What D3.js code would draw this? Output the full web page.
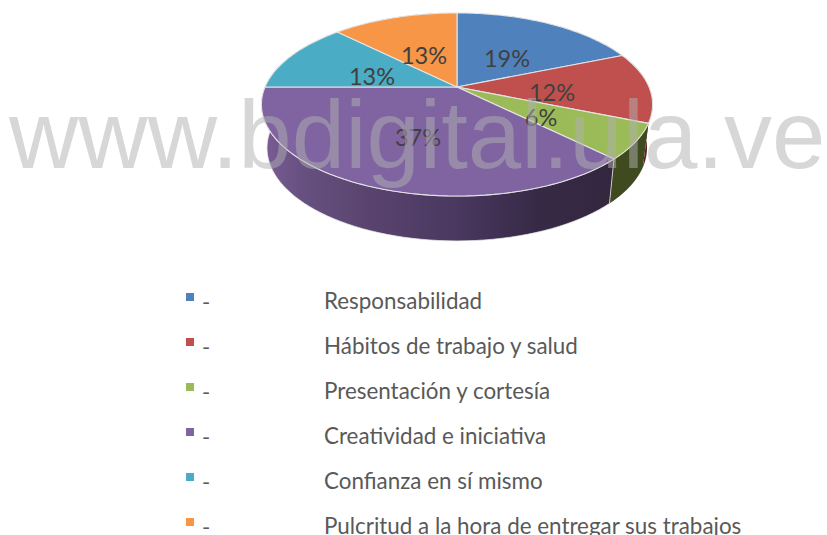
<!DOCTYPE html>
<html><head><meta charset="utf-8">
<script src="https://cdn.jsdelivr.net/npm/d3@7/dist/d3.min.js"></script>
<style>html,body{margin:0;padding:0;background:#fff;overflow:hidden}svg{display:block}</style>
</head><body><svg id="c" width="827" height="535"></svg>
<script>
const categories = ["Responsabilidad","Hábitos de trabajo y salud","Presentación y cortesía","Creatividad e iniciativa","Confianza en sí mismo","Pulcritud a la hora de entregar sus trabajos"];
const shares = [18.75,12.5,6.25,37.5,12.5,12.5];
const pctLabels = ["19%","12%","6%","37%","13%","13%"];
const palette = ["#4f81bd","#c0504d","#9bbb59","#8064a2","#4bacc6","#f79646"];
const sideColors = ["#2e4a70","#5e2220","#3f4a1e","#4f3c63","#25606f","#8a4f1e"];
const labelPos = [[507,61],[552,95],[541,120],[418,140],[372,79],[424,58]];
const watermark = "www.bdigital.ula.ve";

const svg = d3.select("#c");
const color = d3.scaleOrdinal(categories, palette);
const sideColor = d3.scaleOrdinal(categories, sideColors);
const k = 0.191;
const cx = 457;
const topDisk = {a:192, b:88.2, y:87};
const botDisk = {a:186.5, b:89.6, y:130.2};
const proj = (d, t) => {
  const u = Math.sin(t), v = -Math.cos(t), w = 1 - k*v;
  return [cx + d.a*u/w, d.y + d.b*v/w];
};
const arcs = d3.pie().value(d=>d).sort(null)(shares);
const samples = (a0,a1) => d3.range(0,61).map(i=>a0+(a1-a0)*i/60);
const line = d3.line();

const defs = svg.append("defs");
const grad = defs.append("linearGradient").attr("id","sideP").attr("gradientUnits","userSpaceOnUse")
  .attr("x1",262).attr("x2",612).attr("y1",0).attr("y2",0);
[[0,"#7a5c96"],[0.12,"#66507f"],[0.3,"#5a446f"],[0.55,"#4a3860"],[0.78,"#372a47"],[1,"#33273f"]]
  .forEach(s=>grad.append("stop").attr("offset",s[0]).attr("stop-color",s[1]));

// outer walls
svg.append("g").selectAll("path").data(arcs).join("path")
  .attr("d", d=>{
    const ts = samples(d.startAngle,d.endAngle);
    return line(ts.map(t=>proj(topDisk,t)).concat(ts.slice().reverse().map(t=>proj(botDisk,t))))+"Z";
  })
  .attr("fill",(d,i)=> i===3 ? "url(#sideP)" : sideColor(categories[i]))
  .attr("stroke",(d,i)=> i===3 ? "rgba(235,235,235,.75)" : "none").attr("stroke-width",1);

// top face
svg.append("g").selectAll("path").data(arcs).join("path")
  .attr("d", d=>line([[cx,topDisk.y]].concat(samples(d.startAngle,d.endAngle).map(t=>proj(topDisk,t))))+"Z")
  .attr("fill",(d,i)=>color(categories[i]))
  .attr("stroke","#e4e4e4").attr("stroke-width",1.1).attr("stroke-linejoin","round");

// percent labels
svg.append("g").selectAll("text").data(pctLabels).join("text")
  .attr("x",(d,i)=>labelPos[i][0]).attr("y",(d,i)=>labelPos[i][1])
  .attr("text-anchor","middle").attr("dominant-baseline","middle")
  .attr("font-family","Lato, sans-serif").attr("font-size",23.5).attr("fill","#404040").text(d=>d);

// legend
const rowY = d3.scalePoint(d3.range(categories.length),[302,527]);
const row = svg.append("g").selectAll("g").data(categories).join("g")
  .attr("transform",(d,i)=>`translate(0,${rowY(i)})`);
row.append("rect").attr("x",186).attr("y",-9).attr("width",8).attr("height",8).attr("fill",d=>color(d));
row.append("text").attr("x",202).attr("y",8).attr("font-family","Lato, sans-serif").attr("font-size",22).attr("fill","#595959").text("-");
row.append("text").attr("x",324).attr("y",7).attr("font-family","Lato, sans-serif").attr("font-size",22.4).attr("fill","#595959").text(d=>d);

// watermark
svg.append("text").attr("x",9).attr("y",168).attr("font-family","'Liberation Sans', Arial, sans-serif")
  .attr("font-size",96).attr("fill","rgb(175,175,175)").attr("fill-opacity",0.5).text(watermark);
</script></body></html>
